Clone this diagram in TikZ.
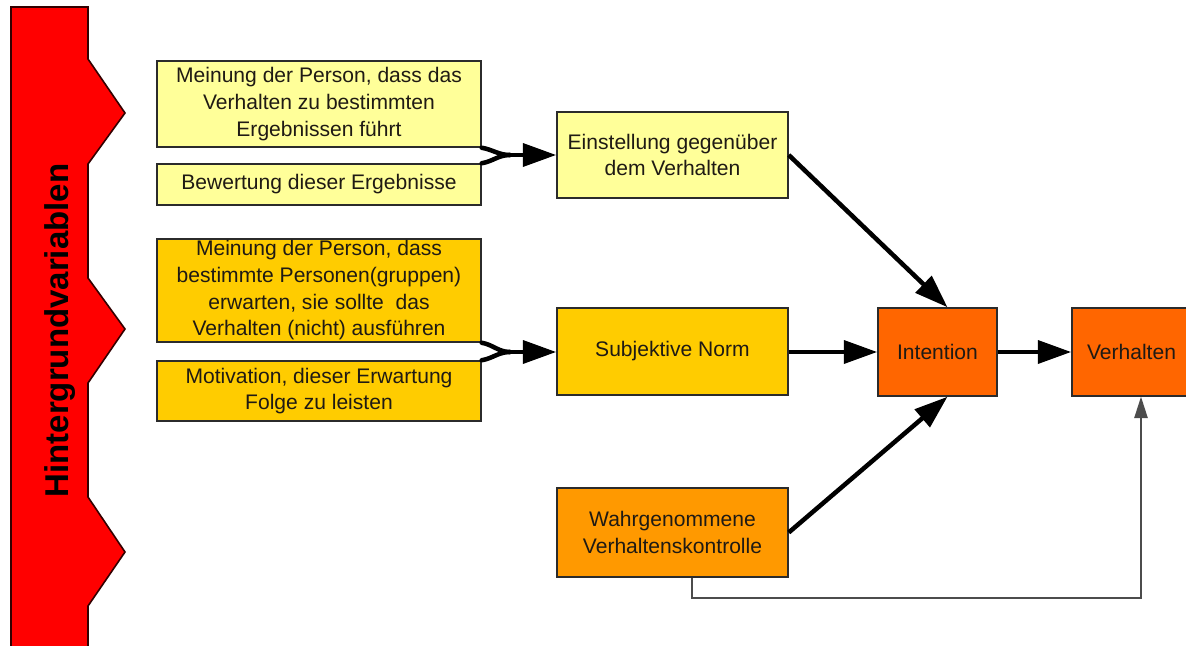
\documentclass[tikz,border=0pt]{standalone}
\usepackage{fontspec}
\setmainfont{Liberation Sans}
\usetikzlibrary{arrows.meta}

\definecolor{paleyellow}{HTML}{FFFF99}
\definecolor{gold}{HTML}{FFCC00}
\definecolor{amber}{HTML}{FF9900}
\definecolor{deeporange}{HTML}{FF6600}
\definecolor{bannerred}{HTML}{FF0000}
\definecolor{edge}{HTML}{2B2B2B}
\definecolor{ink}{HTML}{1F1A14}

% one drawing unit
\def\pxu{0.75pt}

\tikzset{
  box/.style={draw=edge, line width=1.1pt, align=center, inner sep=0pt,
    text=ink, font=\fontsize{15.8pt}{20pt}\selectfont},
  flow/.style={line width=3.4pt, draw=black, line join=round,
    -{Triangle[length=25pt,width=17pt]}},
  merge/.style={line width=3.4pt, draw=black, line cap=round},
  feed/.style={line width=1.1pt, draw=black!70,
    -{Triangle[length=16pt,width=10pt]}},
}

\begin{document}
\begin{tikzpicture}[x=\pxu, y=-\pxu]
\useasboundingbox (0,0) rectangle (1186,646);
\clip (0,0) rectangle (1186,646);

% background variables banner
\filldraw[fill=bannerred, draw=black!80!red, line width=1.2pt]
  (11,7) -- (88,7) -- (88,59) -- (125,113) -- (88,164) -- (88,278)
  -- (125,329) -- (88,383) -- (88,497) -- (125,552) -- (88,606)
  -- (88,660) -- (11,660) -- cycle;
\node[rotate=90, anchor=base, inner sep=0pt,
  font=\bfseries\fontsize{24.75pt}{28pt}\selectfont] (bannertext)
  at (68,330.5) {Hintergrundvariablen};

% attitude inputs
\node[box, fill=paleyellow, minimum width=324*\pxu, minimum height=86*\pxu] (A)
  at (319,104) {Meinung der Person, dass das\\Verhalten zu bestimmten\\Ergebnissen führt};
\node[box, fill=paleyellow, minimum width=324*\pxu, minimum height=41*\pxu] (B)
  at (319,184.5) {Bewertung dieser Ergebnisse};
\node[box, fill=paleyellow, minimum width=231*\pxu, minimum height=86*\pxu] (C)
  at (672.5,155) {Einstellung gegenüber\\dem Verhalten};

% norm inputs
\node[box, fill=gold, minimum width=324*\pxu, minimum height=103*\pxu] (D)
  at (319,290.5) {Meinung der Person, dass\\bestimmte Personen(gruppen)\\erwarten, sie sollte\ \ das\\Verhalten (nicht) ausführen};
\node[box, fill=gold, minimum width=324*\pxu, minimum height=60*\pxu] (E)
  at (319,391) {Motivation, dieser Erwartung\\Folge zu leisten};
\node[box, fill=gold, minimum width=231*\pxu, minimum height=87*\pxu] (F)
  at (672.5,351.5) {Subjektive Norm};

% control, intention, behaviour
\node[box, fill=amber, minimum width=231*\pxu, minimum height=89*\pxu] (G)
  at (672.5,532.5) {Wahrgenommene\\Verhaltenskontrolle};
\node[box, fill=deeporange, minimum width=119*\pxu, minimum height=88*\pxu] (I)
  at (937.5,352) {Intention};
\node[box, fill=deeporange, minimum width=119*\pxu, minimum height=88*\pxu] (V)
  at (1131.5,352) {Verhalten};

% merging connectors
\coordinate (m1) at (510,155);
\coordinate (m2) at (510,352);
\draw[merge] (A.south east) to[out=-10,in=180] (m1);
\draw[merge] (B.north east) to[out=10,in=180] (m1);
\draw[flow] (m1) -- (m1 -| C.west);
\draw[merge] (D.south east) to[out=-10,in=180] (m2);
\draw[merge] (E.north east) to[out=10,in=180] (m2);
\draw[flow] (m2) -- (m2 -| F.west);

% paths into intention and behaviour
\draw[flow] (C.east) -- ([xshift=10*\pxu]I.north);
\draw[flow] (F.east |- I.west) -- (I.west);
\draw[flow] (G.east) -- ([xshift=10*\pxu]I.south);
\draw[flow] (I.east) -- (V.west);

% feedback from perceived control
\coordinate (fb) at (1141,598);
\draw[feed] ([xshift=19.5*\pxu]G.south) |- (fb) -- ([xshift=9.5*\pxu]V.south);
\end{tikzpicture}
\end{document}
